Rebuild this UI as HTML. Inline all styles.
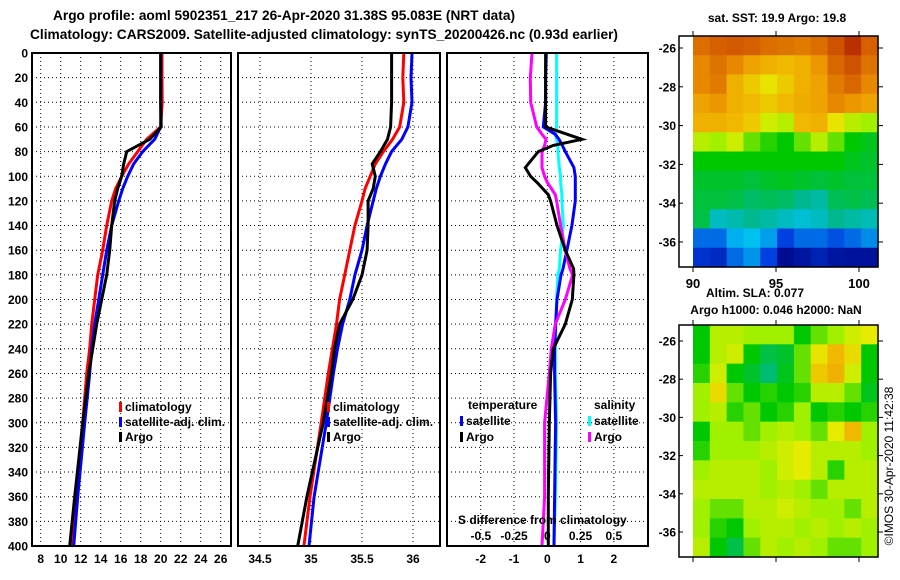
<!DOCTYPE html>
<html><head><meta charset="utf-8"><style>
body{margin:0;background:#fff;}
svg{display:block;font-family:"Liberation Sans",sans-serif;font-weight:bold;}
text{font-size:12px;fill:#000;}
</style></head><body>
<svg id="chart" width="900" height="580" viewBox="0 0 900 580" xmlns="http://www.w3.org/2000/svg">
<text x="284" y="20" text-anchor="middle" style="font-size:14px" textLength="462" lengthAdjust="spacingAndGlyphs">Argo profile: aoml 5902351_217 26-Apr-2020 31.38S 95.083E (NRT data)</text>
<text x="324" y="39" text-anchor="middle" style="font-size:14px" textLength="588" lengthAdjust="spacingAndGlyphs">Climatology: CARS2009. Satellite-adjusted climatology: synTS_20200426.nc (0.93d earlier)</text>
<g id="g"></g>
</svg>
<script>
const depths=[0,20,40,60,70,80,90,100,110,120,140,160,180,200,220,240,260,300,360,400];
const tClim=[20.13,20.13,20.15,20.0,18.6,17.7,16.8,16.1,15.5,15.1,14.6,14.2,13.7,13.4,13.1,12.9,12.6,12.2,11.5,11.1];
const tSat=[20.0,20.0,20.0,20.0,19.4,18.2,17.3,16.7,16.2,15.8,15.1,14.6,14.2,13.8,13.4,13.1,12.9,12.4,11.7,11.3];
const tArgo=[20.0,20.0,20.0,20.05,18.9,16.6,16.3,16.1,15.7,15.4,15.1,14.9,14.6,14.1,13.6,13.2,12.8,12.2,11.4,10.9];
const sClim=[35.91,35.9,35.91,35.87,35.8,35.71,35.63,35.58,35.53,35.5,35.43,35.38,35.33,35.28,35.25,35.21,35.17,35.1,34.99,34.93];
const sSat=[35.99,35.98,35.99,35.95,35.89,35.79,35.73,35.68,35.64,35.61,35.55,35.5,35.43,35.38,35.31,35.26,35.22,35.15,35.03,34.98];
const sArgo=[35.79,35.79,35.79,35.78,35.75,35.68,35.6,35.63,35.61,35.56,35.56,35.55,35.5,35.41,35.28,35.23,35.2,35.12,34.96,34.87];
const dDepths=[0,20,40,60,66,70,75,80,93,100,105,115,120,140,160,175,180,200,220,240,260,300,360,400];
const dTSat=[-0.03,-0.05,-0.05,-0.12,0.24,0.35,0.45,0.54,0.8,0.84,0.84,0.84,0.84,0.74,0.59,0.47,0.41,0.29,0.25,0.22,0.22,0.25,0.22,0.2];
const dTArgo=[-0.05,-0.05,-0.05,-0.05,0.6,1.04,0.18,-0.27,-0.66,-0.5,-0.31,0.03,0.1,0.29,0.54,0.79,0.8,0.75,0.54,0.18,0.1,0.06,0.03,0.03];
const dSArgo=[-0.115,-0.128,-0.125,-0.08,-0.04,-0.01,-0.02,-0.04,-0.04,-0.02,0.0,0.06,0.07,0.1,0.135,0.17,0.19,0.135,0.06,0.03,0.015,-0.02,-0.02,-0.04];
const dSSat=[0.07,0.07,0.07,0.07,0.06,0.07,0.08,0.08,0.09,0.1,0.1,0.11,0.11,0.12,0.1,0.09,0.08,0.07,0.065,0.06,0.06,0.07,0.06,0.05];
const depthTicks=[0,20,40,60,80,100,120,140,160,180,200,220,240,260,280,300,320,340,360,380,400];
const tTicks=[8,10,12,14,16,18,20,22,24,26];
const sTicks=[34.5,35,35.5,36];
const dTicks=[-2,-1,0,1,2];
const dSTickLabels=["-0.5","-0.25","0","0.25","0.5"];
const dSTickVals=[-0.5,-0.25,0,0.25,0.5];
const sstGrid=[
[0.84,0.86,0.87,0.86,0.84,0.83,0.82,0.84,0.88,0.93,0.86],
[0.8,0.83,0.8,0.75,0.72,0.7,0.72,0.78,0.85,0.88,0.83],
[0.8,0.82,0.72,0.68,0.65,0.68,0.72,0.75,0.82,0.85,0.8],
[0.75,0.78,0.72,0.7,0.68,0.7,0.73,0.75,0.8,0.78,0.75],
[0.72,0.72,0.7,0.68,0.62,0.6,0.7,0.72,0.65,0.6,0.58],
[0.6,0.58,0.62,0.55,0.52,0.5,0.55,0.6,0.55,0.5,0.48],
[0.5,0.5,0.5,0.5,0.5,0.5,0.5,0.5,0.5,0.48,0.47],
[0.47,0.47,0.47,0.46,0.47,0.48,0.47,0.46,0.47,0.46,0.46],
[0.46,0.46,0.45,0.43,0.44,0.43,0.4,0.38,0.44,0.45,0.44],
[0.45,0.35,0.37,0.4,0.38,0.35,0.33,0.35,0.4,0.38,0.36],
[0.2,0.2,0.28,0.3,0.26,0.15,0.2,0.2,0.17,0.2,0.24],
[0.12,0.1,0.2,0.25,0.15,0.03,0.05,0.08,0.05,0.04,0.04]];
const slaGrid=[
[0.5,0.6,0.6,0.58,0.58,0.58,0.5,0.55,0.58,0.62,0.64],
[0.5,0.6,0.62,0.5,0.45,0.47,0.55,0.65,0.7,0.66,0.5],
[0.52,0.62,0.5,0.47,0.42,0.48,0.55,0.68,0.72,0.62,0.5],
[0.58,0.66,0.55,0.5,0.52,0.5,0.52,0.6,0.6,0.55,0.48],
[0.58,0.6,0.52,0.55,0.5,0.52,0.58,0.5,0.52,0.5,0.52],
[0.5,0.58,0.58,0.55,0.58,0.6,0.58,0.55,0.64,0.7,0.58],
[0.52,0.58,0.58,0.58,0.6,0.62,0.64,0.6,0.6,0.6,0.58],
[0.58,0.6,0.6,0.6,0.58,0.62,0.64,0.6,0.52,0.6,0.6],
[0.6,0.6,0.6,0.6,0.58,0.6,0.58,0.55,0.6,0.6,0.6],
[0.58,0.55,0.55,0.6,0.6,0.62,0.6,0.58,0.58,0.55,0.6],
[0.58,0.52,0.5,0.58,0.6,0.6,0.58,0.6,0.58,0.6,0.58],
[0.6,0.5,0.45,0.55,0.6,0.58,0.6,0.58,0.55,0.55,0.58]];
const latTicks=[-26,-28,-30,-32,-34,-36];
const lonTicks=[90,95,100];

const NS="http://www.w3.org/2000/svg";
const G=document.getElementById('g');
function mk(tag,attrs,parent){const e=document.createElementNS(NS,tag);for(const k in attrs)e.setAttribute(k,attrs[k]);(parent||G).appendChild(e);return e;}
function txt(x,y,s,anchor,name,size){const t=mk('text',{x:x,y:y,'text-anchor':anchor||'start'});if(size)t.style.fontSize=size+'px';t.textContent=s;


return t;}
const Y=d=>53+d*1.2325;
const xT=v=>40.7+(v-8)*10;
const xS=v=>311+(v-35)*102;
const xD=v=>547.3+v*33.3;
const xDS=v=>547.3+v*133;
const panels=[{x0:32,x1:231,name:'temperature-panel'},{x0:238,x1:440,name:'salinity-panel'},{x0:447,x1:648,name:'difference-panel'}];
panels.forEach((p,i)=>{
  depthTicks.forEach(d=>{if(d>0&&d<400){const l=mk('line',{x1:p.x0,x2:p.x1,y1:Y(d),y2:Y(d),stroke:'#000','stroke-width':1,'stroke-dasharray':'1,3'});
  
  }});
});
tTicks.forEach(v=>{const l=mk('line',{x1:xT(v),x2:xT(v),y1:53,y2:546,stroke:'#000','stroke-dasharray':'1,3'});


txt(xT(v),563,String(v),'middle','temp-tick-label');});
sTicks.forEach(v=>{const l=mk('line',{x1:xS(v),x2:xS(v),y1:53,y2:546,stroke:'#000','stroke-dasharray':'1,3'});


txt(xS(v),563,String(v),'middle','sal-tick-label');});
dTicks.forEach(v=>{const l=mk('line',{x1:xD(v),x2:xD(v),y1:53,y2:546,stroke:'#000','stroke-dasharray':'1,3'});


txt(xD(v),563,String(v),'middle','diff-tick-label');});
depthTicks.forEach(d=>{txt(28,Y(d)+4.5,String(d),'end','depth-tick-label');});
function line(xs,ds,fx,color,name){const pts=xs.map((v,i)=>fx(v).toFixed(1)+','+Y(ds[i]).toFixed(1)).join(' ');
const l=mk('polyline',{points:pts,fill:'none',stroke:color,'stroke-width':3,'stroke-linejoin':'miter'});

}
line(tClim,depths,xT,'#f00','temp-climatology-line');
line(tSat,depths,xT,'#00f','temp-satellite-line');
line(tArgo,depths,xT,'#000','temp-argo-line');
line(sClim,depths,xS,'#f00','sal-climatology-line');
line(sSat,depths,xS,'#00f','sal-satellite-line');
line(sArgo,depths,xS,'#000','sal-argo-line');
line(dSSat,dDepths,xDS,'#0ff','sdiff-satellite-line');
line(dTSat,dDepths,xD,'#00f','tdiff-satellite-line');
line(dSArgo,dDepths,xDS,'#f0f','sdiff-argo-line');
line(dTArgo,dDepths,xD,'#000','tdiff-argo-line');
panels.forEach(p=>{const r=mk('rect',{x:p.x0,y:53,width:p.x1-p.x0,height:493,fill:'none',stroke:'#000','stroke-width':2});

});
function leg(x,y,color,label,name){const r=mk('rect',{x:x,y:y-9,width:3,height:10,fill:color});


txt(x+6,y,label,'start',name);}
leg(119,411,'#f00','climatology','legend-climatology');
leg(119,426,'#00f','satellite-adj. clim.','legend-satellite-adj');
leg(119,441,'#000','Argo','legend-argo');
leg(327,411,'#f00','climatology','legend-sal-climatology');
leg(327,426,'#00f','satellite-adj. clim.','legend-sal-satellite-adj');
leg(327,441,'#000','Argo','legend-sal-argo');
txt(468,409,'temperature','start','legend-temperature-heading');
txt(594,409,'salinity','start','legend-salinity-heading');
leg(460,425,'#00f','satellite','legend-temp-satellite');
leg(460,441,'#000','Argo','legend-temp-argo');
leg(588,425,'#0ff','satellite','legend-sal-satellite');
leg(588,441,'#f0f','Argo','legend-sal-argo-diff');
txt(458,524,'S difference from climatology','start','sdiff-axis-title');
dSTickVals.forEach((v,i)=>txt(xDS(v),540,dSTickLabels[i],'middle','sdiff-tick-label'));
const stops=[[0,[0,0,128]],[0.15,[0,64,224]],[0.3,[0,192,240]],[0.4,[0,184,144]],[0.5,[0,200,0]],[0.58,[160,240,0]],[0.64,[230,235,0]],[0.7,[240,185,0]],[0.78,[236,150,0]],[0.86,[214,96,0]],[1,[160,0,0]]];
function cmap(v){v=Math.max(0,Math.min(1,v));for(let i=1;i<stops.length;i++){if(v<=stops[i][0]){const a=stops[i-1],b=stops[i],t=(v-a[0])/(b[0]-a[0]);const c=a[1].map((x,k)=>Math.round(x+(b[1][k]-x)*t));return 'rgb('+c.join(',')+')';}}return 'rgb(160,0,0)';}
function map(grid,top,bot,lat26y,pxLat,name){
  const x0=693,x1=878,nc=grid[0].length,nr=grid.length,cw=(x1-x0)/nc,ch=(bot-top)/nr;
  grid.forEach((row,r)=>row.forEach((v,c)=>{const e=mk('rect',{x:(x0+c*cw).toFixed(2),y:(top+r*ch).toFixed(2),width:(cw+0.6).toFixed(2),height:(ch+0.6).toFixed(2),fill:cmap(v)});
  
  }));
  const f=mk('rect',{x:679,y:top,width:199,height:bot-top,fill:'none',stroke:'#000','stroke-width':1.5});
  
  
  latTicks.forEach(l=>{const y=lat26y+(-26-l)*pxLat;txt(676,y+4.5,String(l),'end',name+'-lat-label');
    mk('line',{x1:679,x2:683,y1:y,y2:y,stroke:'#000'});mk('line',{x1:878,x2:883,y1:y,y2:y,stroke:'#000'});});
  lonTicks.forEach(l=>{const x=693+(l-90)*16.6;mk('line',{x1:x,x2:x,y1:top-5,y2:top,stroke:'#000'});mk('line',{x1:x,x2:x,y1:bot,y2:bot+5,stroke:'#000'});});
}
map(sstGrid,36,267,48,19.4,'sst-map');
map(slaGrid,325,557,341,19.1,'sla-map');
lonTicks.forEach(l=>txt(693+(l-90)*16.6,288,String(l),'middle','sst-lon-label',13));
txt(777,22,'sat. SST: 19.9 Argo: 19.8','middle','sst-map-title');
txt(755,297,'Altim. SLA: 0.077','middle','sla-value-label');
txt(776,314,'Argo h1000: 0.046 h2000: NaN','middle','argo-height-label');
const c=txt(0,0,'©IMOS 30-Apr-2020 11:42:38','middle','imos-credit');
c.setAttribute('transform','translate(893,466) rotate(-90)');
c.style.fontWeight='normal';
</script>
</body></html>
